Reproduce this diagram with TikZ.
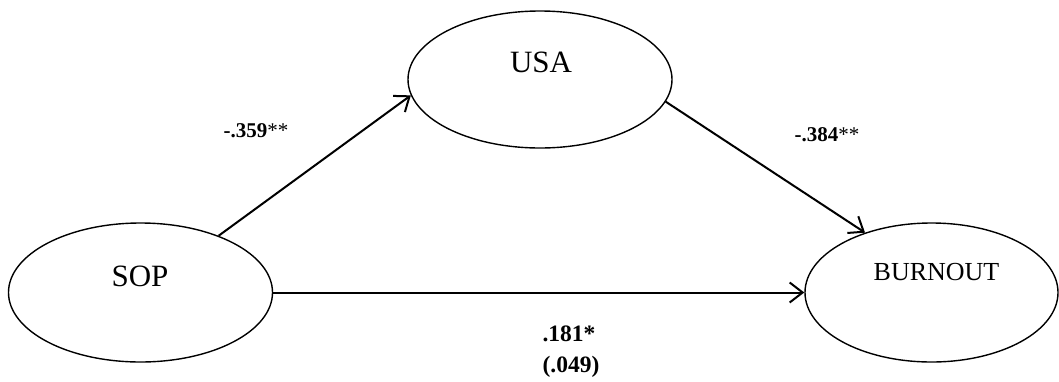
\documentclass[tikz,border=0pt]{standalone}
\usepackage{fontspec}
\setmainfont{Liberation Serif}
\usetikzlibrary{shapes.geometric,arrows.meta}
\begin{document}
\begin{tikzpicture}[x=1pt,y=-1pt,
  latent/.style={draw, ellipse, line width=1.4pt, inner sep=0pt},
  pathline/.style={line width=2pt, -{Straight Barb[length=13pt,width=20pt,line width=2pt]}},
  coef/.style={font=\fontsize{21}{25}\selectfont\bfseries, anchor=base, inner sep=0pt},
  bigcoef/.style={coef, font=\fontsize{23.5}{28}\selectfont\bfseries},
  vartext/.style={anchor=base, inner sep=0pt}
]
\useasboundingbox (0,0) rectangle (1059,381);
\node[latent, minimum width=264pt, minimum height=139pt] (sop) at (140.5,292.5) {};
\node[latent, minimum width=264pt, minimum height=137pt] (usa) at (540,79.5) {};
\node[latent, minimum width=253pt, minimum height=139pt] (burn) at (931.5,292.5) {};
\node[vartext, font=\fontsize{31}{36}\selectfont] (soptext) at (140,286) {SOP};
\node[vartext, font=\fontsize{31}{36}\selectfont] (usatext) at (541,72) {USA};
\node[vartext, font=\fontsize{26}{30}\selectfont] (burntext) at (936.5,280) {BURNOUT};
\draw[pathline] (sop.36.4) -- (usa.187);
\draw[pathline] (usa.-10) -- (burn.138.8);
\draw[pathline] (sop.east) -- (burn.west);
\node[coef] (c1) at (256,137) {-.359{\mdseries**}};
\node[coef] (c2) at (827,141) {-.384{\mdseries**}};
\node[bigcoef] (c3) at (569,341) {.181*};
\node[bigcoef] (c4) at (571,372) {(.049)};
\end{tikzpicture}
\end{document}
